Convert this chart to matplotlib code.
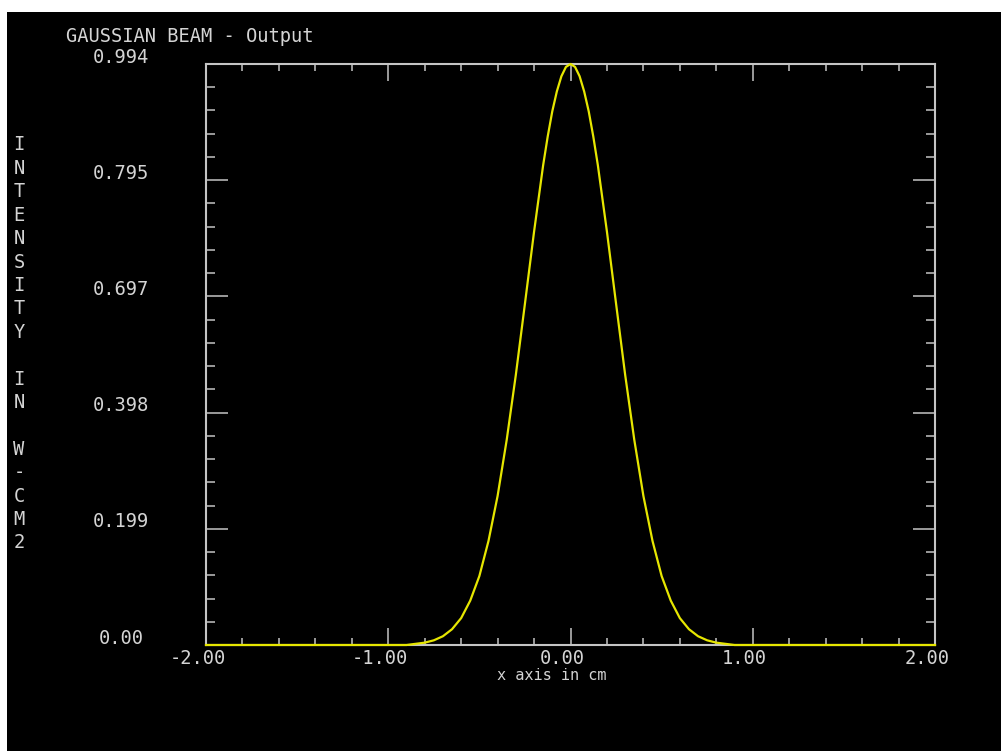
import matplotlib
matplotlib.use("Agg")
import matplotlib.pyplot as plt
import matplotlib.transforms as mtransforms
from matplotlib.patches import Rectangle
import numpy as np

# beam profile (x in cm, intensity in W/cm2)
x_cm = [-2.00, -0.90, -0.85, -0.80, -0.75, -0.70, -0.65, -0.60, -0.55, -0.50,
        -0.45, -0.40, -0.35, -0.30, -0.25, -0.20, -0.15, -0.125, -0.10, -0.075,
        -0.05, -0.025, 0.00, 0.025, 0.05, 0.075, 0.10, 0.125, 0.15, 0.20,
        0.25, 0.30, 0.35, 0.40, 0.45, 0.50, 0.55, 0.60, 0.65, 0.70,
        0.75, 0.80, 0.85, 0.90, 2.00]
intensity = [0.000, 0.000, 0.002, 0.004, 0.008, 0.015, 0.027, 0.046, 0.076, 0.118,
             0.178, 0.255, 0.351, 0.462, 0.584, 0.707, 0.821, 0.870, 0.913, 0.947,
             0.973, 0.989, 0.994, 0.989, 0.973, 0.947, 0.913, 0.870, 0.821, 0.707,
             0.584, 0.462, 0.351, 0.255, 0.178, 0.118, 0.076, 0.046, 0.027, 0.015,
             0.008, 0.004, 0.002, 0.000, 0.000]

x_tick_values = [-2.0, -1.0, 0.0, 1.0, 2.0]
x_tick_labels = ["-2.00", "-1.00", "0.00", "1.00", "2.00"]
y_tick_labels = ["0.00", "0.199", "0.398", "0.697", "0.795", "0.994"]

title = "GAUSSIAN BEAM - Output"
xlabel = "x axis in cm"
ylabel = "INTENSITY IN W-CM2"

FONT = "DejaVu Sans Mono"
TXT = "#d4d4d4"
AXC = "#c4c4c4"
YEL = "#e6e600"
W, H = 1001, 751

fig = plt.figure(figsize=(W / 100, H / 100), dpi=100, facecolor="white")
fig.patches.append(Rectangle((7 / W, 0), (W - 7) / W, (H - 12) / H,
                             transform=fig.transFigure, facecolor="black",
                             edgecolor="none", zorder=-10))

ax = fig.add_axes([206 / W, 106 / H, 729 / W, 581 / H])
ax.set_facecolor("black")
ax.plot(x_cm, intensity, color=YEL, lw=1.6, zorder=5, clip_on=False)

ymax = max(intensity)
ax.set_xlim(-2, 2)
ax.set_ylim(0, ymax)
ax.set_xticks(x_tick_values)
ax.set_xticks(np.arange(-2, 2.001, 0.2), minor=True)
yt = np.linspace(0, ymax, len(y_tick_labels))
ax.set_yticks(yt)
ax.set_yticks(np.linspace(0, ymax, 26), minor=True)
ax.tick_params(labelbottom=False, labelleft=False)
ax.tick_params(which="both", direction="in", top=True, right=True,
               color=AXC, width=1.1)
ax.tick_params(axis="x", which="major", length=12)
ax.tick_params(axis="x", which="minor", length=5)
ax.tick_params(axis="y", which="major", length=16)
ax.tick_params(axis="y", which="minor", length=6.5)
for sp in ax.spines.values():
    sp.set_color(AXC)
    sp.set_linewidth(1.5)

txt_kw = dict(color=TXT, family=FONT, fontsize=13.5, ha="center", va="center")

ytrans = ax.get_yaxis_transform() + mtransforms.ScaledTranslation(
    -0.85, 0.07, fig.dpi_scale_trans)
for v, lab in zip(yt, y_tick_labels):
    ax.text(0, v, lab, transform=ytrans, **txt_kw)

xtrans = ax.get_xaxis_transform() + mtransforms.ScaledTranslation(
    -0.08, -0.14, fig.dpi_scale_trans)
for v, lab in zip(x_tick_values, x_tick_labels):
    ax.text(v, 0, lab, transform=xtrans, **txt_kw)

fig.text(66 / W, 1 - 37 / H, title, color=TXT, family=FONT, fontsize=13.5,
         ha="left", va="center")
fig.text(552 / W, 1 - 676 / H, xlabel, color=TXT, family=FONT, fontsize=11,
         ha="center", va="center")

# stacked vertical label, one character per row
rows = np.linspace(145, 543, len(ylabel))
for ch, yp in zip(ylabel, rows):
    fig.text(19 / W, 1 - yp / H, ch, **txt_kw)

fig.savefig("out.png", dpi=100, facecolor=fig.get_facecolor())
plt.close(fig)
